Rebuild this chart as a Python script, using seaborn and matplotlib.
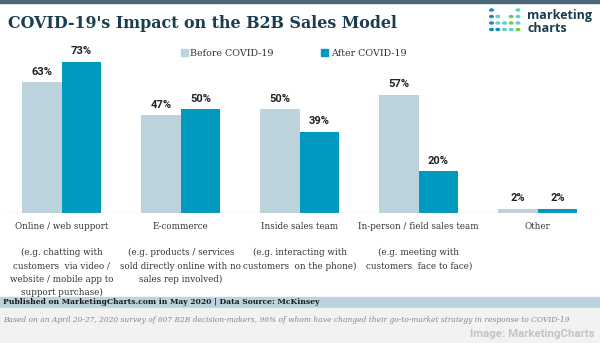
import matplotlib
matplotlib.use("Agg")
import matplotlib.pyplot as plt
import seaborn as sns
import pandas as pd
from matplotlib.patches import Rectangle, Circle, Patch

categories = [
    "Online / web support\n\n(e.g. chatting with\ncustomers  via video /\nwebsite / mobile app to\nsupport purchase)",
    "E-commerce\n\n(e.g. products / services\nsold directly online with no\nsales rep involved)",
    "Inside sales team\n\n(e.g. interacting with\ncustomers  on the phone)",
    "In-person / field sales team\n\n(e.g. meeting with\ncustomers  face to face)",
    "Other",
]
before = [63, 47, 50, 57, 2]
after = [73, 50, 39, 20, 2]
series = ["Before COVID-19", "After COVID-19"]
colors = ["#bcd3de", "#0099c0"]

df = pd.DataFrame({
    "category": categories * 2,
    "value": before + after,
    "period": [series[0]] * len(categories) + [series[1]] * len(categories),
})

sns.set_theme(style="white")
plt.rcParams["font.family"] = ["DejaVu Sans"]

W, H = 600, 343
fig = plt.figure(figsize=(6, 3.43), dpi=100)
fig.patch.set_facecolor("white")

def fx(x):
    return x / W

def fy(y):
    return 1 - y / H

# background decorations (drawn first)
fig.patches.append(Rectangle((0, fy(2.5)), 1, 2.5 / H, transform=fig.transFigure,
                             color="#4a6878", zorder=0))
fig.patches.append(Rectangle((0, fy(307.5)), 1, 10.5 / H, transform=fig.transFigure,
                             color="#bcd4df", zorder=0))
fig.patches.append(Rectangle((0, 0), 1, (H - 307.5) / H, transform=fig.transFigure,
                             color="#f2f2f2", zorder=0))

ax = fig.add_axes([fx(2.2), fy(212.7), fx(595), (212.7 - 30) / H])
ax.set_zorder(2)
ax.patch.set_alpha(0)
sns.barplot(data=df, x="category", y="value", hue="period",
            palette=colors, saturation=1, width=0.664, gap=0,
            linewidth=0, ax=ax, legend=False)
ax.set_xlim(-0.5, 4.5)
ax.set_ylim(0, (212.7 - 30) / 2.07)
for c in ax.containers:
    ax.bar_label(c, labels=[f"{v:g}%" for v in c.datavalues], padding=4,
                 fontsize=8, fontweight="bold", color="#222222",
                 family="Roboto")
ax.axhline(0, color="#c8c8c8", lw=1, ls=(0, (1, 1)))
for s in ax.spines.values():
    s.set_visible(False)
ax.set_xlabel("")
ax.set_ylabel("")
ax.set_yticks([])
ax.tick_params(axis="x", length=0, pad=6.5)
for t in ax.get_xticklabels():
    t.set_fontfamily("DejaVu Serif")
    t.set_fontsize(6.3)
    t.set_color("#333333")
    t.set_linespacing(1.6)
    t.set_verticalalignment("top")
    t.set_horizontalalignment("center")
    t.set_multialignment("center")

# legend
handles = [Patch(color=colors[0]), Patch(color=colors[1])]
leg = fig.legend(handles, series, ncol=2, loc="center left",
                 bbox_to_anchor=(fx(181), fy(53)), frameon=False,
                 handlelength=0.75, handleheight=0.75, handletextpad=0.25,
                 columnspacing=5.0, borderaxespad=0, borderpad=0,
                 prop={"family": "DejaVu Serif", "size": 6.8})
for t in leg.get_texts():
    t.set_color("#333333")

# title
fig.text(fx(8), fy(23), "COVID-19's Impact on the B2B Sales Model",
         fontsize=11.4, fontweight="bold", family="DejaVu Serif",
         color="#1b3d50", va="center", ha="left")

# logo
dot_cols = [491.5, 497.8, 504.5, 511.2, 518]
pattern = [
    ["#1a8cb8", None, None, None, "#5fd0d0"],
    ["#1a8cb8", "#5fd0d0", None, "#7ac943", "#5fd0d0"],
    ["#1a8cb8", "#5fd0d0", "#5fd0d0", "#7ac943", "#5fd0d0"],
    ["#1a8cb8", "#1a8cb8", "#5fd0d0", "#5fd0d0", "#7ac943"],
]
rows_y = [10, 16.5, 23, 29.5]
for r, row in enumerate(pattern):
    for c, col in enumerate(row):
        if col:
            fig.patches.append(Circle((fx(dot_cols[c]), fy(rows_y[r])), 1.8 / W,
                                      transform=fig.transFigure, color=col))
fig.text(fx(527), fy(15), "marketing", fontsize=9, fontweight="bold",
         family="Open Sans", color="#1b3d50", va="center", ha="left")
fig.text(fx(527), fy(28), "charts", fontsize=9, fontweight="bold",
         family="Open Sans", color="#1b3d50", va="center", ha="left")

# footer
fig.text(fx(3), fy(302), "Published on MarketingCharts.com in May 2020 | Data Source: McKinsey",
         fontsize=5.5, fontweight="bold", family="DejaVu Serif", color="#1a1a1a",
         va="center", ha="left")
fig.text(fx(3), fy(320), "Based on an April 20-27, 2020 survey of 607 B2B decision-makers, 96% of whom have changed their go-to-market strategy in response to COVID-19",
         fontsize=5.4, style="italic", family="DejaVu Serif", color="#888888",
         va="center", ha="left")
fig.text(fx(595), fy(334), "Image: MarketingCharts", fontsize=8.2, fontweight="bold",
         family="Roboto", color="#c4c4c4", va="center", ha="right")

fig.savefig("out.png", dpi=100)
